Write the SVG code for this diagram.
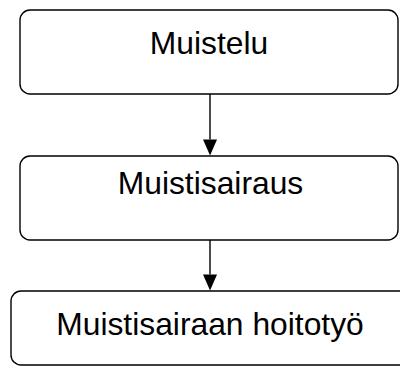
<svg xmlns="http://www.w3.org/2000/svg" width="400" height="367" viewBox="0 0 400 367">
  <defs>
    <style>
      .box { fill: #fff; stroke: #000; stroke-width: 1.4; }
      .label { font-family: "Liberation Sans", Arial, sans-serif; font-size: 31.8px; fill: #000; text-anchor: middle; }
      .link { stroke: #000; stroke-width: 1.4; fill: none; }
      .head { fill: #000; }
    </style>
  </defs>
  <rect width="400" height="367" fill="#fff"/>
  <g id="connectors">
    <line class="link" x1="210" y1="94" x2="210" y2="139.5"/>
    <path class="head" d="M203,139.5 L217,139.5 L210,155.5 Z"/>
    <line class="link" x1="210" y1="240" x2="210" y2="274.5"/>
    <path class="head" d="M203,274.5 L217,274.5 L210,290.5 Z"/>
  </g>
  <g id="node-muistelu">
    <rect class="box" x="20" y="10" width="378" height="84" rx="10" ry="10"/>
    <text class="label" x="209" y="53.5">Muistelu</text>
  </g>
  <g id="node-muistisairaus">
    <rect class="box" x="20" y="156" width="378" height="84" rx="10" ry="10"/>
    <text class="label" x="210.5" y="193.5">Muistisairaus</text>
  </g>
  <g id="node-hoitotyo">
    <rect class="box" x="11" y="291" width="398" height="74" rx="10" ry="10"/>
    <text class="label" x="210" y="334.5">Muistisairaan hoitotyö</text>
  </g>
</svg>
